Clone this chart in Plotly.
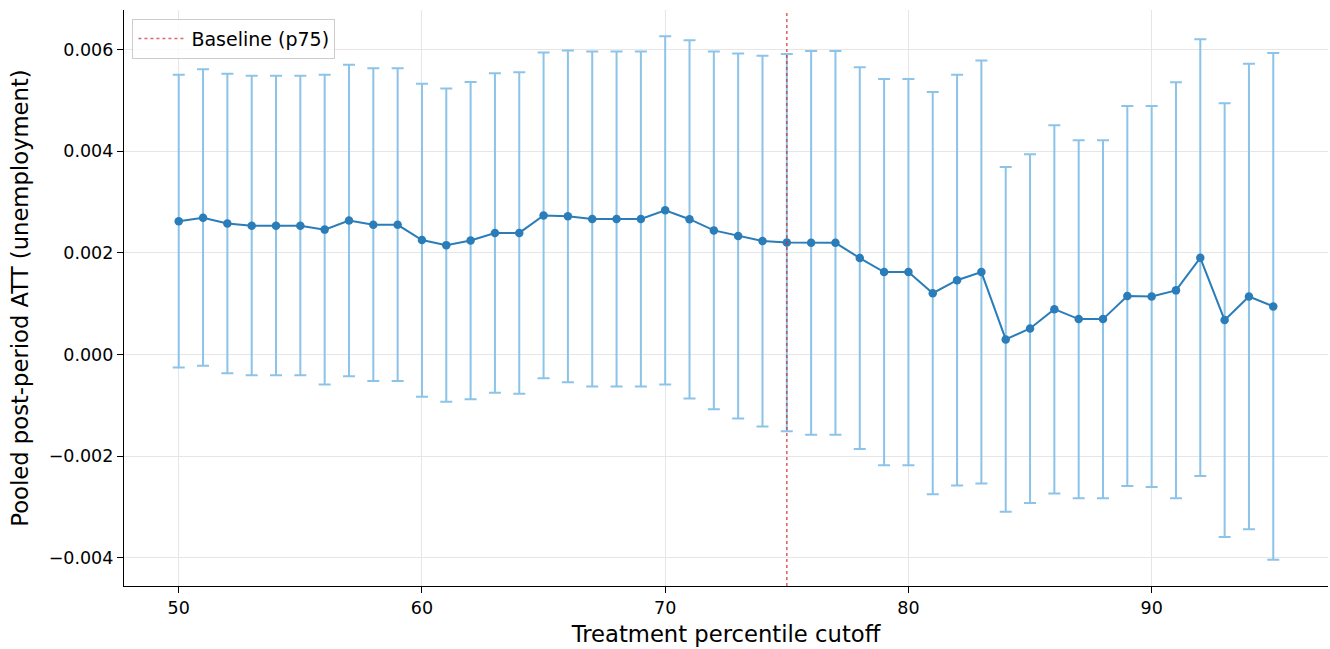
import plotly.graph_objects as go

cutoffs = list(range(50, 96))
att = [2.62, 2.69, 2.575, 2.53, 2.53, 2.53, 2.455, 2.635, 2.55, 2.55,
       2.25, 2.15, 2.24, 2.39, 2.39, 2.735, 2.72, 2.665, 2.665, 2.665,
       2.835, 2.66, 2.44, 2.33, 2.23, 2.20, 2.195, 2.195, 1.895, 1.62,
       1.62, 1.205, 1.46, 1.62, 0.295, 0.51, 0.89, 0.695, 0.695, 1.15,
       1.14, 1.26, 1.90, 0.675, 1.14, 0.945]
ci_upper = [5.50, 5.61, 5.52, 5.48, 5.48, 5.48, 5.50, 5.70, 5.63, 5.63,
            5.325, 5.23, 5.36, 5.53, 5.55, 5.94, 5.98, 5.96, 5.96, 5.96,
            6.26, 6.18, 5.96, 5.92, 5.875, 5.91, 5.97, 5.97, 5.65, 5.42,
            5.42, 5.16, 5.50, 5.78, 3.685, 3.94, 4.51, 4.215, 4.215, 4.885,
            4.885, 5.355, 6.20, 4.94, 5.72, 5.93]
ci_lower = [-0.255, -0.223, -0.37, -0.41, -0.41, -0.41, -0.59, -0.43, -0.525, -0.525,
            -0.83, -0.93, -0.88, -0.755, -0.775, -0.47, -0.545, -0.63, -0.63, -0.63,
            -0.59, -0.866, -1.08, -1.26, -1.42, -1.51, -1.58, -1.58, -1.86, -2.18,
            -2.18, -2.75, -2.58, -2.54, -3.095, -2.92, -2.735, -2.83, -2.83, -2.59,
            -2.61, -2.83, -2.39, -3.59, -3.44, -4.04]
baseline_cutoff = 75
x_ticks = [50, 60, 70, 80, 90]
y_ticks = [-0.004, -0.002, 0.0, 0.002, 0.004, 0.006]

scale = 1e-3
y = [v * scale for v in att]
err_plus = [(u - v) * scale for u, v in zip(ci_upper, att)]
err_minus = [(v - l) * scale for v, l in zip(att, ci_lower)]

font = "DejaVu Sans, Liberation Sans, sans-serif"

fig = go.Figure()
fig.add_trace(go.Scatter(
    x=cutoffs, y=y, mode="lines+markers",
    line=dict(color="#2a7db8", width=2),
    marker=dict(color="#2a7db8", size=8.5),
    error_y=dict(type="data", symmetric=False, array=err_plus, arrayminus=err_minus,
                 color="#8cc3e8", thickness=2, width=6),
    showlegend=False,
))
fig.add_trace(go.Scatter(
    x=[None], y=[None], mode="lines", name="Baseline (p75)",
    line=dict(color="rgba(214,39,40,0.7)", width=1.6, dash="dot"),
))

fig.add_shape(type="line", xref="x", yref="y domain", x0=baseline_cutoff, x1=baseline_cutoff,
              y0=0, y1=1, line=dict(color="rgba(214,39,40,0.7)", width=1.6, dash="dot"),
              layer="above")
fig.add_shape(type="line", xref="paper", yref="y", x0=0, x1=1, y0=0, y1=0,
              line=dict(color="rgba(140,140,140,0.7)", width=1.1, dash="dash"),
              layer="between")

xmin, xmax = min(cutoffs), max(cutoffs)
xpad = (xmax - xmin) * 0.05
ylo, yhi = min(ci_lower) * scale, max(ci_upper) * scale
ypad = (yhi - ylo) * 0.05

fig.update_layout(
    width=1330, height=649,
    margin=dict(l=124, r=2, t=10, b=63),
    paper_bgcolor="white", plot_bgcolor="white",
    font=dict(family=font, size=18, color="black"),
    legend=dict(x=0.007, y=0.985, xanchor="left", yanchor="top",
                bgcolor="rgba(255,255,255,0.8)", bordercolor="#cccccc", borderwidth=1,
                font=dict(size=19), itemwidth=48),
)
fig.update_xaxes(
    range=[xmin - xpad, xmax + xpad], tickvals=x_ticks,
    showgrid=True, gridcolor="#e6e6e6", gridwidth=1,
    showline=True, linecolor="black", linewidth=1.2,
    ticks="outside", ticklen=6, tickcolor="black",
    zeroline=False, tickfont=dict(size=17.5),
    title=dict(text="Treatment percentile cutoff", font=dict(size=22.7), standoff=9),
)
fig.update_yaxes(
    range=[ylo - ypad, yhi + ypad], tickvals=y_ticks, tickformat=".3f",
    showgrid=True, gridcolor="#e6e6e6", gridwidth=1,
    showline=True, linecolor="black", linewidth=1.2,
    ticks="outside", ticklen=6, tickcolor="black",
    zeroline=False, tickfont=dict(size=17.5),
    title=dict(text="Pooled post-period ATT (unemployment)", font=dict(size=22.7), standoff=13),
)

fig.write_html("out.html", post_script="document.body.style.margin='0';",
               config={"displayModeBar": False})
